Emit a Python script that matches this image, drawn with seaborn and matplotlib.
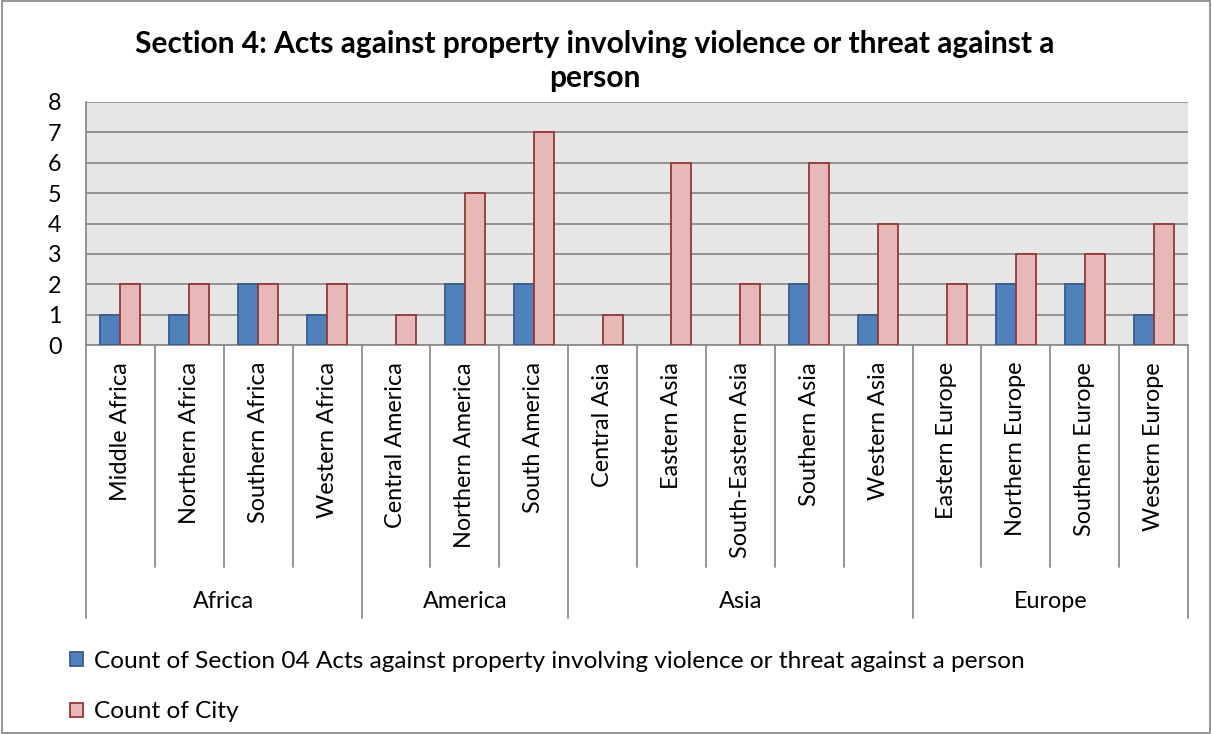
import numpy as np
import pandas as pd
import matplotlib
matplotlib.use("Agg")
import matplotlib.pyplot as plt
import seaborn as sns
from matplotlib.patches import Patch, Rectangle

regions = ["Middle Africa", "Northern Africa", "Southern Africa", "Western Africa",
           "Central America", "Northern America", "South America",
           "Central Asia", "Eastern Asia", "South-Eastern Asia", "Southern Asia", "Western Asia",
           "Eastern Europe", "Northern Europe", "Southern Europe", "Western Europe"]
groups = ["Africa", "America", "Asia", "Europe"]
group_sizes = [4, 3, 5, 4]
count_section = [1, 1, 2, 1, np.nan, 2, 2, np.nan, np.nan, np.nan, 2, 1, np.nan, 2, 2, 1]
count_city = [2, 2, 2, 2, 1, 5, 7, 1, 6, 2, 6, 4, 2, 3, 3, 4]
series_names = ["Count of Section 04 Acts against property involving violence or threat against a person",
                "Count of City"]
title = "Section 4: Acts against property involving violence or threat against a\nperson"

FONT = "Lato"
fills = ["#4F81BD", "#E6B9B8"]
edges = ["#385D8A", "#953735"]
GRID = "#8C8C8C"
FS = 16.8

df = pd.DataFrame({
    "region": regions * 2,
    "value": count_section + count_city,
    "series": [series_names[0]] * len(regions) + [series_names[1]] * len(regions),
})

sns.set_style("white")
plt.rcParams["font.family"] = [FONT, "DejaVu Sans"]
plt.rcParams["text.color"] = "black"
plt.rcParams["ytick.labelcolor"] = "black"

W, H = 1212, 734
fig = plt.figure(figsize=(W / 100, H / 100), dpi=100)
x0, x1, ytop, ybot = 86, 1188, 102, 345
ax = fig.add_axes([x0 / W, 1 - ybot / H, (x1 - x0) / W, (ybot - ytop) / H])
ax.set_facecolor("#E6E6E6")

sns.barplot(data=df, x="region", y="value", hue="series", order=regions,
            hue_order=series_names, palette=fills, width=0.58, saturation=1,
            legend=False, ax=ax, zorder=3)
for cont, ec in zip(ax.containers, edges):
    for bar in cont:
        bar.set_edgecolor(ec)
        bar.set_linewidth(1.3)

ax.set_xlim(-0.5, len(regions) - 0.5)
ax.set_ylim(0, 8)
ax.set_yticks(range(0, 9))
ax.yaxis.grid(True, color=GRID, lw=1.3, zorder=0)
ax.set_axisbelow(True)
ax.set_xticks([])
ax.set_xlabel("")
ax.set_ylabel("")
for s in ["top", "right"]:
    ax.spines[s].set_visible(False)
for s in ["left", "bottom"]:
    ax.spines[s].set_color(GRID)
    ax.spines[s].set_linewidth(1.3)
ax.tick_params(axis="y", length=6.5, color=GRID, width=1.3, labelsize=FS, pad=11,
               labelcolor="black")
for t in ax.get_yticklabels():
    t.set_fontfamily([FONT, "DejaVu Sans"])

# multi-level category axis
ph = ybot - ytop
y_sep = -(567 - ybot) / ph
y_grp = -(618 - ybot) / ph
tr = ax.get_xaxis_transform()
boundaries = np.cumsum([0] + group_sizes) - 0.5
for i in range(len(regions) + 1):
    xb = i - 0.5
    ylow = y_grp if xb in boundaries else y_sep
    ax.plot([xb, xb], [0, ylow], transform=tr, color=GRID, lw=1.3, clip_on=False)
for i, r in enumerate(regions):
    ax.text(i, -(362 - ybot) / ph, r, transform=tr, rotation=90, ha="center", va="top",
            fontsize=FS)
for g, a, b in zip(groups, boundaries[:-1], boundaries[1:]):
    ax.text((a + b) / 2, -(602 - ybot) / ph, g, transform=tr, ha="center", va="center",
            fontsize=FS)

fig.text(595 / W, 1 - 61 / H, title, ha="center", va="center", fontsize=21.5,
         fontweight="bold", linespacing=1.3)

handles = [Patch(facecolor=f, edgecolor=e, lw=1.3) for f, e in zip(fills, edges)]
fig.legend(handles, series_names, loc="upper left", bbox_to_anchor=(70 / W, 1 - 651 / H),
           frameon=False, fontsize=17.6, handlelength=0.52, handleheight=0.52,
           handletextpad=0.45, labelspacing=1.2, borderaxespad=0, borderpad=0)

fig.patches.append(Rectangle((0.002, 0.002), 0.996, 0.996, transform=fig.transFigure,
                             fill=False, edgecolor=GRID, lw=1.3))

fig.savefig("out.png", dpi=100)
